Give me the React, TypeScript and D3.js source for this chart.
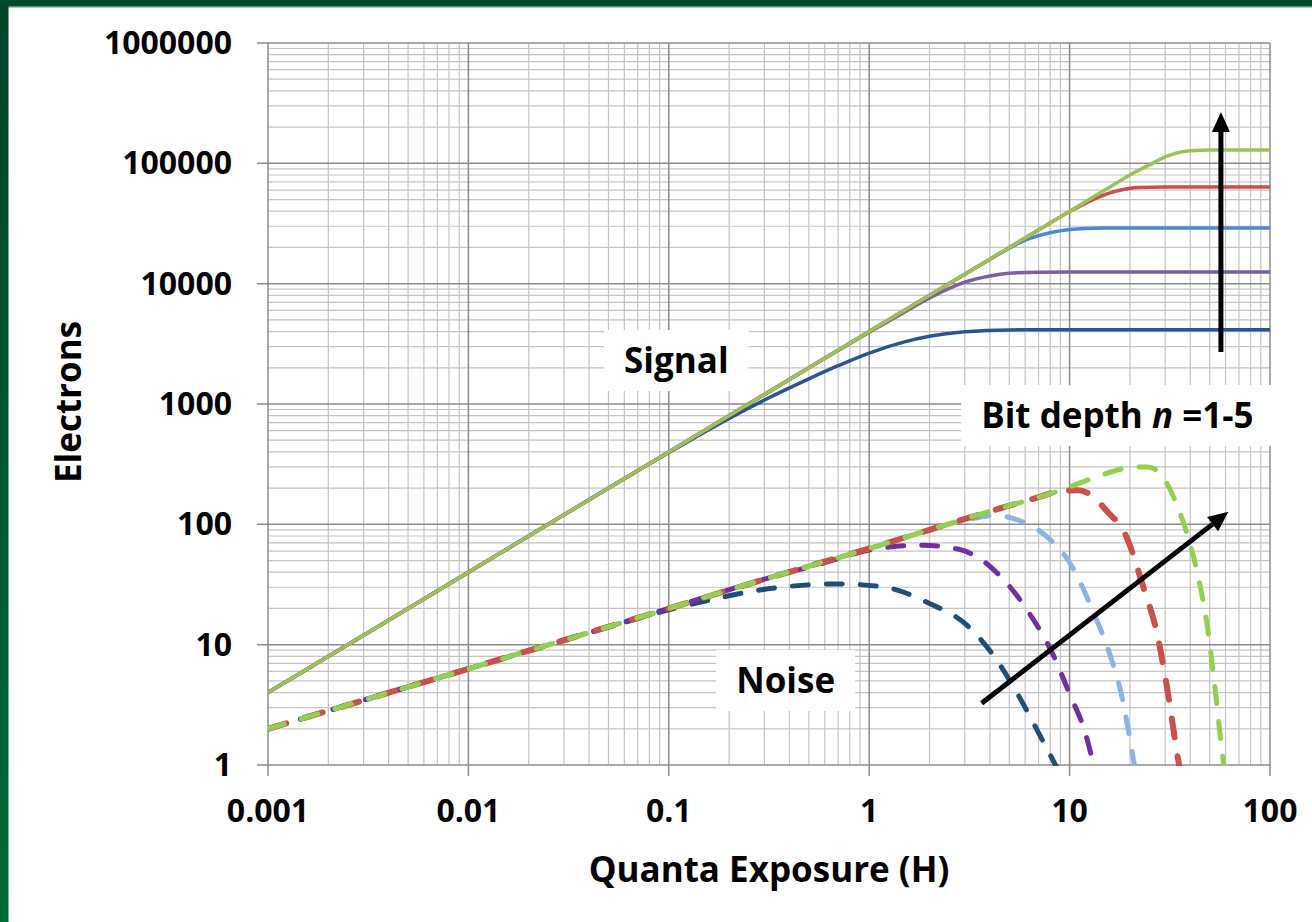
import React, { useEffect, useRef } from "react";
import * as d3 from "d3";

const W = 1312;
const H = 922;

// axis ticks
const xTickValues = [0.001, 0.01, 0.1, 1, 10, 100];
const xTickLabels = ["0.001", "0.01", "0.1", "1", "10", "100"];
const yTickValues = [1, 10, 100, 1000, 10000, 100000, 1000000];
const yTickLabels = ["1", "10", "100", "1000", "10000", "100000", "1000000"];

// signal curves, bit depth n = 1..5 (exposure H, electrons)
const sig1H = [0.001, 0.01, 0.05, 0.1, 0.2, 0.3, 0.5, 0.7, 1, 1.5, 2, 3, 5, 10, 100];
const sig1S = [4, 40, 200, 395, 760, 1080, 1620, 2080, 2650, 3280, 3650, 3980, 4130, 4150, 4150];
const sig2H = [0.001, 0.01, 0.1, 0.5, 1, 1.5, 2, 3, 4, 5, 7, 10, 100];
const sig2S = [4, 40, 400, 2000, 3950, 5800, 7600, 10300, 11600, 12200, 12450, 12500, 12500];
const sig3H = [0.001, 0.01, 0.1, 1, 2, 3, 4, 6, 8, 10, 12, 15, 20, 100];
const sig3S = [4, 40, 400, 4000, 8000, 12000, 15900, 23000, 26500, 28200, 28800, 29000, 29000, 29000];
const sig4H = [0.001, 0.01, 0.1, 1, 3, 5, 8, 10, 12, 15, 18, 22, 30, 100];
const sig4S = [4, 40, 400, 4000, 12000, 20000, 32000, 39800, 46500, 55000, 60000, 63000, 63600, 63600];
const sig5H = [0.001, 0.01, 0.1, 1, 3, 5, 8, 10, 15, 20, 25, 30, 35, 40, 50, 100];
const sig5S = [4, 40, 400, 4000, 12000, 20000, 32000, 40000, 60000, 80000, 97000, 113000, 123000, 127500, 129000, 129000];

// noise curves, n = 1..5
const noi1H = [0.001, 0.01, 0.05, 0.1, 0.17, 0.25, 0.4, 0.7, 1.2, 2, 3, 4.2, 5.6, 7, 8.5, 9.5];
const noi1N = [2, 6.3, 14, 19.5, 24, 27.5, 30.5, 32, 30, 22, 15, 8, 3.7, 1.85, 1.0, 0.7];
const noi2H = [0.001, 0.01, 0.1, 0.3, 0.6, 1, 1.8, 2.8, 3.3, 4.7, 6.3, 8.2, 10, 12, 13.2, 14];
const noi2N = [2, 6.3, 20, 35, 48, 61, 67, 62, 56, 34.5, 18.2, 8.5, 3.9, 1.83, 1.0, 0.7];
const noi3H = [0.001, 0.01, 0.1, 0.3, 1, 2, 3, 4.3, 5.2, 7.7, 10.3, 13, 15.8, 18.4, 20.3, 21.5];
const noi3N = [2, 6.3, 20, 35, 63, 90, 108, 119, 112, 79, 44.5, 19.4, 8.5, 3.47, 1.42, 0.8];
const noi4H = [0.001, 0.01, 0.1, 0.3, 1, 2, 3, 5, 7, 9, 11, 13, 15.2, 19.2, 23.3, 27.3, 30.6, 34.4, 36];
const noi4N = [2, 6.3, 20, 35, 63, 90, 111, 143, 168, 189, 192, 172, 131, 79, 30.3, 12.4, 4.47, 1.25, 0.8];
const noi5H = [0.001, 0.01, 0.1, 0.3, 1, 2, 3, 5, 7, 9, 13, 17, 20.8, 24.3, 28, 30.6, 34, 37.1, 43.4, 48.7, 52.6, 57.8, 60];
const noi5N = [2, 6.3, 20, 35, 63, 90, 111, 143, 168, 192, 241, 280, 300, 300, 270, 219, 150, 102, 39.2, 14.1, 5.09, 1.25, 0.8];

const sigColors = ["#2a5590", "#7e5fa0", "#4d89d0", "#c9504c", "#9bc25a"];
const noiColors = ["#1f4e79", "#7030a0", "#8db3e2", "#c9504c", "#92d050"];

// annotation anchors (data units)
const labels = [
  { text: "Signal", h: 0.109, v: 1811 },
  { text: "Noise", h: 0.383, v: 3.97 },
  { text: "Bit depth |n| =1-5", h: 17.3, v: 632 },
];
const arrows = [
  [[56.9, 2700], [56.9, 267000]],
  [[3.64, 3.26], [62, 127]],
];

const FONT = "'Open Sans', 'DejaVu Sans', sans-serif";

const App = () => {
  const svgRef = useRef(null);

  useEffect(() => {
    const svg = d3.select(svgRef.current);
    svg.selectAll("*").remove();

    const x = d3.scaleLog().domain([0.001, 100]).range([268, 1270]);
    const y = d3.scaleLog().domain([1, 1000000]).range([765, 43]);

    const defs = svg.append("defs");
    const grad = defs
      .append("linearGradient")
      .attr("id", "frame")
      .attr("x1", 0).attr("y1", 0).attr("x2", 0).attr("y2", 1);
    grad.append("stop").attr("offset", "0%").attr("stop-color", "#00462a");
    grad.append("stop").attr("offset", "100%").attr("stop-color", "#006b38");
    defs
      .append("clipPath")
      .attr("id", "plot")
      .append("rect")
      .attr("x", 268).attr("y", 40).attr("width", 1004).attr("height", 726);

    svg.append("rect").attr("width", W).attr("height", H).attr("fill", "#fff");
    // dark green frame top and left
    svg.append("rect").attr("x", 0).attr("y", 0).attr("width", W).attr("height", 6).attr("fill", "#004a2b");
    svg.append("rect").attr("x", 0).attr("y", 6).attr("width", W).attr("height", 1.5).attr("fill", "#5d8a72");
    svg.append("rect").attr("x", 0).attr("y", 0).attr("width", 8.5).attr("height", H).attr("fill", "url(#frame)");

    // gridlines
    const [x0, x1] = x.range();
    const [y0, y1] = y.range();
    const grid = svg.append("g");
    const xMinor = x.ticks().filter((d) => !xTickValues.includes(d));
    const yMinor = y.ticks().filter((d) => !yTickValues.includes(d));
    grid
      .selectAll(".xm")
      .data(xMinor)
      .join("line")
      .attr("x1", (d) => x(d)).attr("x2", (d) => x(d))
      .attr("y1", y1).attr("y2", y0)
      .attr("stroke", "#c4c4c4").attr("stroke-width", 1.2);
    grid
      .selectAll(".ym")
      .data(yMinor)
      .join("line")
      .attr("x1", x0).attr("x2", x1)
      .attr("y1", (d) => y(d)).attr("y2", (d) => y(d))
      .attr("stroke", "#c4c4c4").attr("stroke-width", 1.2);
    grid
      .selectAll(".xM")
      .data(xTickValues)
      .join("line")
      .attr("x1", (d) => x(d)).attr("x2", (d) => x(d))
      .attr("y1", y1).attr("y2", y0 + 11)
      .attr("stroke", "#8c8c8c").attr("stroke-width", 1.5);
    grid
      .selectAll(".yM")
      .data(yTickValues)
      .join("line")
      .attr("x1", x0 - 11).attr("x2", x1)
      .attr("y1", (d) => y(d)).attr("y2", (d) => y(d))
      .attr("stroke", "#8c8c8c").attr("stroke-width", 1.5);

    // tick labels
    svg
      .append("g")
      .selectAll("text")
      .data(yTickValues)
      .join("text")
      .attr("x", 232)
      .attr("y", (d) => y(d) + 11)
      .attr("text-anchor", "end")
      .style("font", `700 32px ${FONT}`)
      .text((d, i) => yTickLabels[i]);
    svg
      .append("g")
      .selectAll("text")
      .data(xTickValues)
      .join("text")
      .attr("x", (d) => x(d))
      .attr("y", 822)
      .attr("text-anchor", "middle")
      .style("font", `700 32px ${FONT}`)
      .text((d, i) => xTickLabels[i]);

    // axis titles
    svg
      .append("text")
      .attr("transform", `translate(81,402) rotate(-90)`)
      .attr("text-anchor", "middle")
      .style("font", `700 35px ${FONT}`)
      .text("Electrons");
    svg
      .append("text")
      .attr("x", 769)
      .attr("y", 882)
      .attr("text-anchor", "middle")
      .style("font", `700 35px ${FONT}`)
      .text("Quanta Exposure (H)");

    // annotation labels on white boxes
    labels.forEach((l) => {
      const g = svg.append("g");
      const box = g.append("rect").attr("fill", "#fff");
      const t = g
        .append("text")
        .attr("x", x(l.h))
        .attr("y", y(l.v))
        .attr("text-anchor", "middle")
        .style("font", `700 35px ${FONT}`);
      l.text.split("|").forEach((part, i) => {
        t.append("tspan").attr("font-style", i === 1 ? "italic" : "normal").text(part);
      });
      const b = t.node().getBBox();
      box
        .attr("x", b.x - 20)
        .attr("y", b.y - 6)
        .attr("width", b.width + 40)
        .attr("height", b.height + 14);
    });

    const line = d3
      .line()
      .x((d) => x(d[0]))
      .y((d) => y(d[1]))
      .curve(d3.curveMonotoneX);

    const plot = svg.append("g").attr("clip-path", "url(#plot)");

    const signals = [
      [sig1H, sig1S],
      [sig2H, sig2S],
      [sig3H, sig3S],
      [sig4H, sig4S],
      [sig5H, sig5S],
    ];
    signals.forEach(([hs, vs], i) => {
      plot
        .append("path")
        .attr("d", line(hs.map((h, j) => [h, vs[j]])))
        .attr("fill", "none")
        .attr("stroke", sigColors[i])
        .attr("stroke-width", 3.5);
    });

    const noises = [
      [noi1H, noi1N],
      [noi2H, noi2N],
      [noi3H, noi3N],
      [noi4H, noi4N],
      [noi5H, noi5N],
    ];
    const dashes = ["16 18", "16 18", "17 18", "19 19", "17 18"];
    const widths = [5, 5, 5, 6, 5];
    noises.forEach(([hs, vs], i) => {
      plot
        .append("path")
        .attr("d", line(hs.map((h, j) => [h, vs[j]])))
        .attr("fill", "none")
        .attr("stroke", noiColors[i])
        .attr("stroke-width", widths[i])
        .attr("stroke-linecap", "round")
        .attr("stroke-dasharray", dashes[i]);
    });

    // arrows
    arrows.forEach(([a, b]) => {
      const ax = x(a[0]), ay = y(a[1]);
      const bx = x(b[0]), by = y(b[1]);
      const ang = Math.atan2(by - ay, bx - ax);
      const len = 20, half = 9;
      const baseX = bx - len * Math.cos(ang);
      const baseY = by - len * Math.sin(ang);
      svg
        .append("line")
        .attr("x1", ax).attr("y1", ay)
        .attr("x2", baseX).attr("y2", baseY)
        .attr("stroke", "#000").attr("stroke-width", 5);
      const px = -Math.sin(ang), py = Math.cos(ang);
      svg
        .append("path")
        .attr(
          "d",
          `M${bx},${by}L${baseX + half * px},${baseY + half * py}L${baseX - half * px},${baseY - half * py}Z`
        )
        .attr("fill", "#000");
    });
  }, []);

  return (
    <svg
      ref={svgRef}
      width={W}
      height={H}
      style={{ position: "absolute", left: 0, top: 0, display: "block" }}
    ></svg>
  );
};

export default App;
